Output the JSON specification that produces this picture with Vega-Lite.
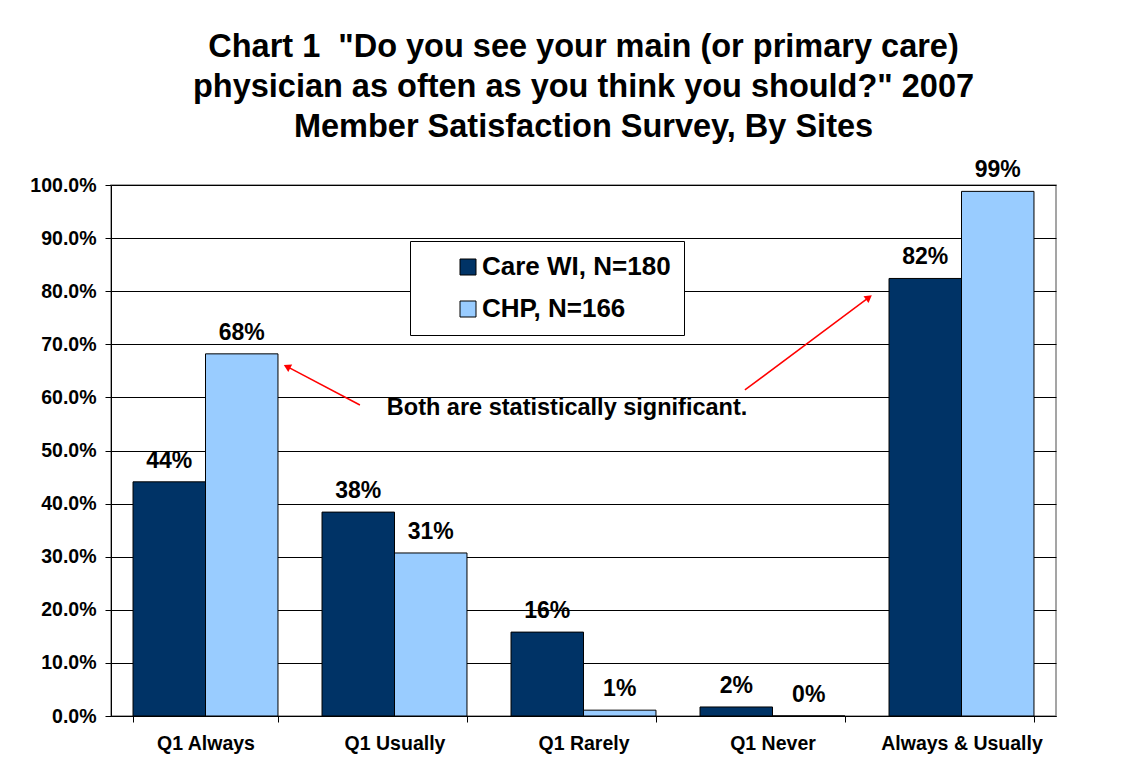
{
  "$schema": "https://vega.github.io/schema/vega-lite/v6.json",
  "autosize": {"type": "none"},
  "padding": {"left": 111, "top": 185, "right": 85, "bottom": 61},
  "width": 945,
  "height": 531,
  "background": "white",
  "title": {
    "text": ["Chart 1\u00a0 \"Do you see your main (or primary care)", "physician as often as you think you should?\" 2007", "Member Satisfaction Survey, By Sites"],
    "font": "Liberation Sans",
    "fontSize": 32.5,
    "fontWeight": "bold",
    "color": "black",
    "lineHeight": 40,
    "anchor": "middle",
    "offset": 16
  },
  "config": {
    "font": "Liberation Sans",
    "view": {"stroke": "#888888", "strokeWidth": 1.5},
    "axis": {
      "labelFont": "Liberation Sans",
      "labelFontWeight": "bold",
      "labelFontSize": 19.5,
      "labelColor": "black",
      "domainColor": "black",
      "domainWidth": 1,
      "tickColor": "black",
      "tickSize": 6,
      "title": null
    }
  },
  "resolve": {"scale": {"x": "independent"}},
  "layer": [
    {
      "data": {"name": "bars", "values": [
        {"cat": "Q1 Always", "series": "Care WI, N=180", "v": 0.441},
        {"cat": "Q1 Always", "series": "CHP, N=166", "v": 0.682},
        {"cat": "Q1 Usually", "series": "Care WI, N=180", "v": 0.384},
        {"cat": "Q1 Usually", "series": "CHP, N=166", "v": 0.307},
        {"cat": "Q1 Rarely", "series": "Care WI, N=180", "v": 0.158},
        {"cat": "Q1 Rarely", "series": "CHP, N=166", "v": 0.011},
        {"cat": "Q1 Never", "series": "Care WI, N=180", "v": 0.017},
        {"cat": "Q1 Never", "series": "CHP, N=166", "v": 0.0},
        {"cat": "Always & Usually", "series": "Care WI, N=180", "v": 0.824},
        {"cat": "Always & Usually", "series": "CHP, N=166", "v": 0.988}
      ]},
      "encoding": {
        "x": {
          "field": "cat", "type": "nominal",
          "sort": ["Q1 Always", "Q1 Usually", "Q1 Rarely", "Q1 Never", "Always & Usually"],
          "scale": {"paddingInner": 0.233, "paddingOuter": 0.1165},
          "axis": {"labelAngle": 0, "tickBand": "extent", "labelPadding": 12, "grid": false}
        },
        "xOffset": {
          "field": "series", "type": "nominal",
          "sort": ["Care WI, N=180", "CHP, N=166"]
        },
        "y": {
          "field": "v", "type": "quantitative",
          "scale": {"domain": [0, 1], "nice": false},
          "axis": {
            "format": ".1%",
            "values": [0, 0.1, 0.2, 0.3, 0.4, 0.5, 0.6, 0.7, 0.8, 0.9, 1.0],
            "grid": true, "gridColor": "black", "gridWidth": 1, "gridOpacity": 1,
            "labelPadding": 9
          }
        }
      },
      "layer": [
        {
          "mark": {"type": "bar", "stroke": "black", "strokeWidth": 1},
          "encoding": {
            "color": {
              "field": "series", "type": "nominal",
              "sort": ["Care WI, N=180", "CHP, N=166"],
              "scale": {"domain": ["Care WI, N=180", "CHP, N=166"], "range": ["#003366", "#99CCFF"]},
              "legend": {
                "title": null,
                "orient": "none",
                "legendX": 299,
                "legendY": 56,
                "fillColor": "white",
                "strokeColor": "black",
                "padding": 13,
                "symbolOffset": 32,
                "symbolType": "square",
                "symbolSize": 256,
                "symbolStrokeColor": "black",
                "symbolStrokeWidth": 1,
                "symbolOpacity": 1,
                "labelFont": "Liberation Sans",
                "labelFontSize": 26,
                "labelFontWeight": "bold",
                "labelColor": "black",
                "labelOffset": 1,
                "labelLimit": 400,
                "rowPadding": 16
              }
            }
          }
        },
        {
          "mark": {"type": "text", "fontSize": 23, "fontWeight": "bold", "color": "black", "baseline": "middle", "dy": -21},
          "encoding": {
            "text": {"field": "v", "type": "quantitative", "format": ".0%"}
          }
        }
      ]
    },
    {
      "data": {"name": "notes", "values": [
        {"kind": "text", "x": 2.413, "y": 0.58, "x2": 2.413, "y2": 0.58, "label": "Both are statistically significant.", "ang": 0},
        {"kind": "arrow", "x": 1.317, "y": 0.5857, "x2": 0.937, "y2": 0.657, "label": "", "ang": 297.8},
        {"kind": "arrow", "x": 3.354, "y": 0.614, "x2": 4.005, "y2": 0.787, "label": "", "ang": 53.2}
      ]},
      "encoding": {
        "x": {"field": "x", "type": "quantitative", "scale": {"domain": [0, 5], "nice": false, "zero": false}, "axis": null},
        "y": {"field": "y", "type": "quantitative"}
      },
      "layer": [
        {
          "transform": [{"filter": "datum.kind == 'text'"}],
          "mark": {"type": "text", "fontSize": 23.5, "fontWeight": "bold", "color": "black", "baseline": "middle", "align": "center"},
          "encoding": {"text": {"field": "label"}}
        },
        {
          "transform": [{"filter": "datum.kind == 'arrow'"}],
          "mark": {"type": "rule", "color": "#FF0000", "strokeWidth": 1.5},
          "encoding": {"x2": {"field": "x2"}, "y2": {"field": "y2"}}
        },
        {
          "transform": [{"filter": "datum.kind == 'arrow'"}],
          "mark": {"type": "point", "shape": "triangle", "filled": true, "color": "#FF0000", "size": 70, "opacity": 1},
          "encoding": {
            "x": {"field": "x2", "type": "quantitative"},
            "y": {"field": "y2", "type": "quantitative"},
            "angle": {"field": "ang", "type": "quantitative", "scale": null}
          }
        }
      ]
    }
  ]
}
